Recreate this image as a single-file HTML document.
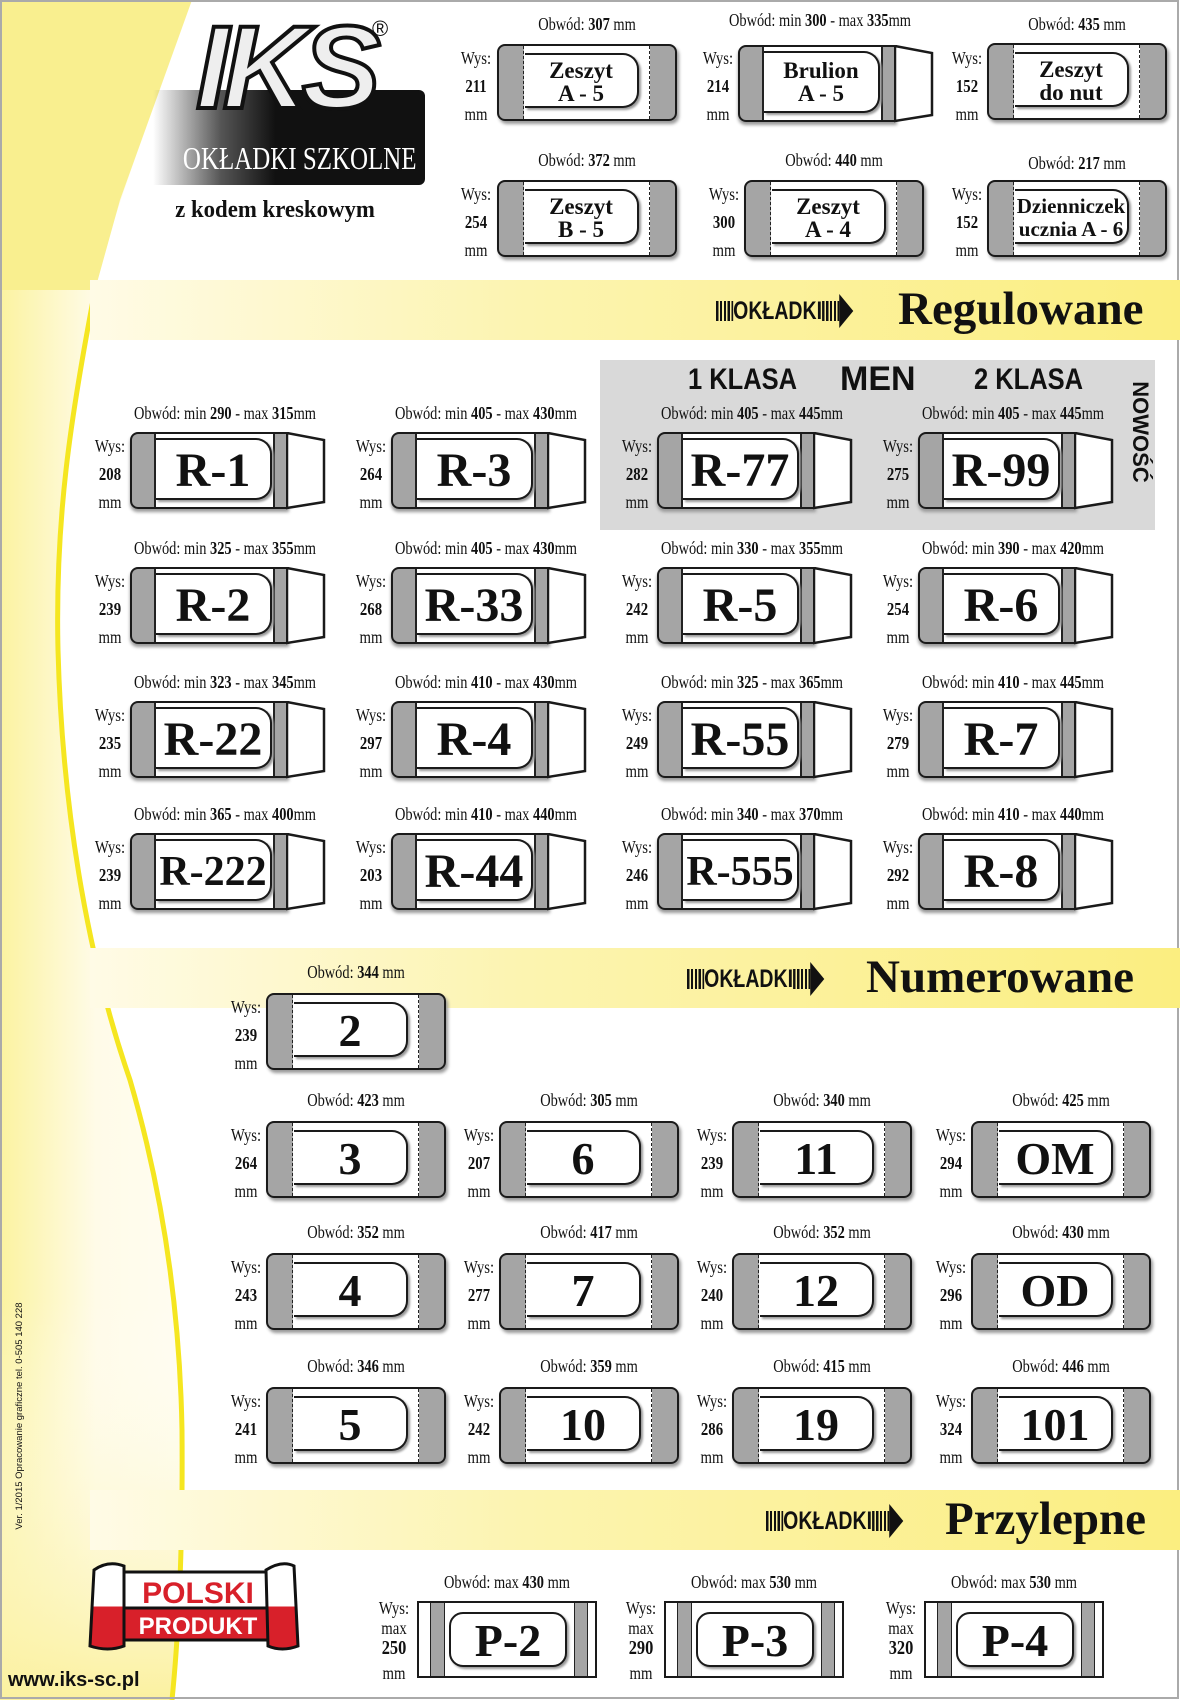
<!DOCTYPE html>
<html><head><meta charset="utf-8">
<style>
*{margin:0;padding:0}
body{width:1180px;height:1700px;position:relative;overflow:hidden;background:#fff;font-family:"Liberation Serif",serif;color:#111}
.a{position:absolute}
.o{position:absolute;width:240px;text-align:center;font-size:18px;line-height:20px;transform:scaleX(.8);white-space:nowrap}
.w{position:absolute;width:40px;text-align:center;font-size:18px;line-height:28px;transform:scaleX(.82)}
.c{position:absolute;width:180px;height:77px;box-sizing:border-box;border:2.5px solid #1a1a1a;border-radius:8px;background:linear-gradient(90deg,#a5a5a5 0 25px,#fff 25px 151px,#a5a5a5 151px);box-shadow:2px 3px 3px #999}
.c::before,.c::after{content:"";position:absolute;top:0;bottom:0;border-left:1.5px dashed #222}
.c::before{left:24px}.c::after{left:150px}
.l{position:absolute;box-sizing:border-box;border:2px solid #1a1a1a;border-left:none;border-radius:0 16px 16px 0;background:#fff;font-weight:bold;text-align:center;box-shadow:2px 2px 2px #999;white-space:nowrap}
.c .l{left:26px;top:7px;width:114px;height:55px;font-size:46px;line-height:54px}
.c .l.t{font-size:23px;line-height:23px;padding-top:4px}
.r{position:absolute;width:196px;height:77px}
.r .b{position:absolute;left:0;top:0;width:159px;height:77px;box-sizing:border-box;border:2.5px solid #1a1a1a;border-radius:8px 0 0 8px;background:linear-gradient(90deg,#a5a5a5 0 24px,#fff 24px 143px,#a5a5a5 143px);box-shadow:0 3px 3px #999}
.r .b::before{content:"";position:absolute;left:22px;top:0;bottom:0;border-left:2px solid #222}
.r .b::after{content:"";position:absolute;left:141px;top:0;bottom:0;border-left:2px solid #222}
.r svg{position:absolute;left:156px;top:0}
.r .l{left:26px;top:6px;width:116px;height:62px;font-size:48px;line-height:62px}
.r .l.t{font-size:23px;line-height:23px;padding-top:6px}
.p{position:absolute;width:180px;height:77px;box-sizing:border-box;border:2px solid #1a1a1a;background:linear-gradient(90deg,#fff 0 11px,#222 11px 12px,#a5a5a5 12px 25px,#222 25px 26px,#fff 26px 155px,#222 155px 156px,#a5a5a5 156px 168px,#222 168px 169px,#fff 169px)}
.p .l{left:30px;top:9px;width:118px;height:55px;border-left:2px solid #1a1a1a;border-radius:14px;font-size:46px;line-height:54px}
.band{position:absolute;left:90px;width:1090px;height:60px;background:linear-gradient(90deg,#fffbe6 0,#fcf4b0 40%,#fbee80 100%)}
.ok{position:absolute;font-family:"Liberation Sans",sans-serif;font-weight:bold;font-size:25px;line-height:30px;transform:scaleX(.78);transform-origin:left;white-space:nowrap}
.bars{display:inline-block;width:22px;height:20px;vertical-align:-2px;background:repeating-linear-gradient(90deg,#111 0 3px,transparent 3px 5px)}
.arr{display:inline-block;width:0;height:0;border-top:17px solid transparent;border-bottom:17px solid transparent;border-left:18px solid #111;vertical-align:-9px}
.ttl{position:absolute;font-weight:bold;font-size:47px;line-height:50px;white-space:nowrap}
</style></head><body>

<svg class="a" style="left:0;top:0" width="1180" height="1700">
<defs>
<linearGradient id="gy" x1="0" y1="0" x2="1" y2="0"><stop offset="0" stop-color="#fbf3a0"/><stop offset="0.5" stop-color="#fffbe8"/><stop offset="1" stop-color="#fffdf2"/></linearGradient>
<linearGradient id="gb" x1="0" y1="0" x2="0" y2="1"><stop offset="0" stop-color="#fff" stop-opacity="0"/><stop offset="1" stop-color="#fbf1a0"/></linearGradient>
</defs>
<path d="M0 0 L192 0 C150 120 110 220 95 290 C70 420 55 520 58 650 C62 800 85 950 130 1080 C165 1200 180 1320 182 1430 C183 1550 178 1640 172 1700 L0 1700 Z" fill="url(#gy)"/>
<path d="M0 1300 L182 1300 C183 1550 178 1640 172 1700 L0 1700 Z" fill="url(#gb)"/>
<path d="M0 0 L192 0 L120 200 L95 290 L0 290 Z" fill="#f9ef8f"/>
<path d="M95 290 C70 420 55 520 58 650 C62 800 85 950 130 1080 C165 1200 180 1320 182 1430 C183 1550 178 1640 172 1700" fill="none" stroke="#f5e620" stroke-width="5"/>
<rect x="1" y="1" width="1177" height="1697" fill="none" stroke="#aaa" stroke-width="2"/>
</svg>

<div class="band" style="top:280px"></div>
<div class="band" style="top:948px"></div>
<div class="band" style="top:1490px"></div>

<!-- logo -->
<div class="a" style="left:153px;top:90px;width:272px;height:95px;border-radius:0 6px 6px 0;background:linear-gradient(90deg,rgba(0,0,0,0) 0,#555 25%,#111 45%,#111 100%)"></div>
<div class="a" style="left:196px;top:6px;font-family:'Liberation Sans',sans-serif;font-weight:bold;font-style:italic;font-size:118px;line-height:124px;color:#eee;-webkit-text-stroke:4px #111;letter-spacing:-6px;transform:scaleX(1.0)">IKS</div>
<div class="a" style="left:372px;top:16px;font-family:'Liberation Sans',sans-serif;font-size:22px">®</div>
<div class="a" style="left:153px;top:142px;width:272px;text-align:center;color:#fff;font-size:32px;line-height:32px;transform:scaleX(.78);white-space:nowrap">OKŁADKI SZKOLNE</div>
<div class="a" style="left:140px;top:195px;width:270px;text-align:center;font-weight:bold;font-size:24px;line-height:30px;transform:scaleX(.95);white-space:nowrap">z kodem kreskowym</div>

<!-- top covers -->
<div class="o" style="left:467px;top:14px">Obwód: <b>307</b> mm</div>
<div class="w" style="left:456px;top:44px">Wys:<br><b>211</b><br>mm</div>
<div class="c" style="left:497px;top:44px"><div class="l t">Zeszyt<br>A - 5</div></div>

<div class="o" style="left:700px;top:10px">Obwód: min <b>300</b> - max <b>335</b>mm</div>
<div class="w" style="left:698px;top:44px">Wys:<br><b>214</b><br>mm</div>
<div class="r" style="left:738px;top:45px"><div class="b"></div><svg width="42" height="80"><polygon points="1,1 38,8 38,70 1,76" fill="#fff" stroke="#1a1a1a" stroke-width="2.5"/></svg><div class="l t">Brulion<br>A - 5</div></div>

<div class="o" style="left:957px;top:14px">Obwód: <b>435</b> mm</div>
<div class="w" style="left:947px;top:44px">Wys:<br><b>152</b><br>mm</div>
<div class="c" style="left:987px;top:43px"><div class="l t">Zeszyt<br>do nut</div></div>

<div class="o" style="left:467px;top:150px">Obwód: <b>372</b> mm</div>
<div class="w" style="left:456px;top:180px">Wys:<br><b>254</b><br>mm</div>
<div class="c" style="left:497px;top:180px"><div class="l t">Zeszyt<br>B - 5</div></div>

<div class="o" style="left:714px;top:150px">Obwód: <b>440</b> mm</div>
<div class="w" style="left:704px;top:180px">Wys:<br><b>300</b><br>mm</div>
<div class="c" style="left:744px;top:180px"><div class="l t">Zeszyt<br>A - 4</div></div>

<div class="o" style="left:957px;top:153px">Obwód: <b>217</b> mm</div>
<div class="w" style="left:947px;top:180px">Wys:<br><b>152</b><br>mm</div>
<div class="c" style="left:987px;top:180px"><div class="l t" style="font-size:21px;line-height:23px">Dzienniczek<br>ucznia A - 6</div></div>

<div class="ok" style="left:716px;top:294px"><span class="bars"></span>OKŁADKI<span class="bars"></span><span class="arr"></span></div>
<div class="ttl" style="left:898px;top:284px">Regulowane</div>

<div class="a" style="left:600px;top:360px;width:555px;height:170px;background:#d9d9d9"></div>
<div class="a" style="left:688px;top:362px;font-family:'Liberation Sans',sans-serif;font-weight:bold;font-size:30px;line-height:36px;transform:scaleX(.85);transform-origin:left;white-space:nowrap">1 KLASA</div>
<div class="a" style="left:840px;top:360px;font-family:'Liberation Sans',sans-serif;font-weight:bold;font-size:34px;line-height:38px;white-space:nowrap">MEN</div>
<div class="a" style="left:974px;top:362px;font-family:'Liberation Sans',sans-serif;font-weight:bold;font-size:30px;line-height:36px;transform:scaleX(.85);transform-origin:left;white-space:nowrap">2 KLASA</div>
<div class="a" style="left:1080px;top:420px;width:120px;text-align:center;font-family:'Liberation Sans',sans-serif;font-weight:bold;font-size:22px;line-height:24px;transform:rotate(90deg)">NOWOŚĆ</div>

<!-- R covers -->
<div class="o" style="left:105px;top:403px">Obwód: min <b>290</b> - max <b>315</b>mm</div>
<div class="w" style="left:90px;top:432px">Wys:<br><b>208</b><br>mm</div>
<div class="r" style="left:130px;top:432px"><div class="b"></div><svg width="42" height="80"><polygon points="1,1 38,8 38,70 1,76" fill="#fff" stroke="#1a1a1a" stroke-width="2.5"/></svg><div class="l">R-1</div></div>

<div class="o" style="left:366px;top:403px">Obwód: min <b>405</b> - max <b>430</b>mm</div>
<div class="w" style="left:351px;top:432px">Wys:<br><b>264</b><br>mm</div>
<div class="r" style="left:391px;top:432px"><div class="b"></div><svg width="42" height="80"><polygon points="1,1 38,8 38,70 1,76" fill="#fff" stroke="#1a1a1a" stroke-width="2.5"/></svg><div class="l">R-3</div></div>

<div class="o" style="left:632px;top:403px">Obwód: min <b>405</b> - max <b>445</b>mm</div>
<div class="w" style="left:617px;top:432px">Wys:<br><b>282</b><br>mm</div>
<div class="r" style="left:657px;top:432px"><div class="b"></div><svg width="42" height="80"><polygon points="1,1 38,8 38,70 1,76" fill="#fff" stroke="#1a1a1a" stroke-width="2.5"/></svg><div class="l">R-77</div></div>

<div class="o" style="left:893px;top:403px">Obwód: min <b>405</b> - max <b>445</b>mm</div>
<div class="w" style="left:878px;top:432px">Wys:<br><b>275</b><br>mm</div>
<div class="r" style="left:918px;top:432px"><div class="b"></div><svg width="42" height="80"><polygon points="1,1 38,8 38,70 1,76" fill="#fff" stroke="#1a1a1a" stroke-width="2.5"/></svg><div class="l">R-99</div></div>

<div class="o" style="left:105px;top:538px">Obwód: min <b>325</b> - max <b>355</b>mm</div>
<div class="w" style="left:90px;top:567px">Wys:<br><b>239</b><br>mm</div>
<div class="r" style="left:130px;top:567px"><div class="b"></div><svg width="42" height="80"><polygon points="1,1 38,8 38,70 1,76" fill="#fff" stroke="#1a1a1a" stroke-width="2.5"/></svg><div class="l">R-2</div></div>

<div class="o" style="left:366px;top:538px">Obwód: min <b>405</b> - max <b>430</b>mm</div>
<div class="w" style="left:351px;top:567px">Wys:<br><b>268</b><br>mm</div>
<div class="r" style="left:391px;top:567px"><div class="b"></div><svg width="42" height="80"><polygon points="1,1 38,8 38,70 1,76" fill="#fff" stroke="#1a1a1a" stroke-width="2.5"/></svg><div class="l">R-33</div></div>

<div class="o" style="left:632px;top:538px">Obwód: min <b>330</b> - max <b>355</b>mm</div>
<div class="w" style="left:617px;top:567px">Wys:<br><b>242</b><br>mm</div>
<div class="r" style="left:657px;top:567px"><div class="b"></div><svg width="42" height="80"><polygon points="1,1 38,8 38,70 1,76" fill="#fff" stroke="#1a1a1a" stroke-width="2.5"/></svg><div class="l">R-5</div></div>

<div class="o" style="left:893px;top:538px">Obwód: min <b>390</b> - max <b>420</b>mm</div>
<div class="w" style="left:878px;top:567px">Wys:<br><b>254</b><br>mm</div>
<div class="r" style="left:918px;top:567px"><div class="b"></div><svg width="42" height="80"><polygon points="1,1 38,8 38,70 1,76" fill="#fff" stroke="#1a1a1a" stroke-width="2.5"/></svg><div class="l">R-6</div></div>

<div class="o" style="left:105px;top:672px">Obwód: min <b>323</b> - max <b>345</b>mm</div>
<div class="w" style="left:90px;top:701px">Wys:<br><b>235</b><br>mm</div>
<div class="r" style="left:130px;top:701px"><div class="b"></div><svg width="42" height="80"><polygon points="1,1 38,8 38,70 1,76" fill="#fff" stroke="#1a1a1a" stroke-width="2.5"/></svg><div class="l">R-22</div></div>

<div class="o" style="left:366px;top:672px">Obwód: min <b>410</b> - max <b>430</b>mm</div>
<div class="w" style="left:351px;top:701px">Wys:<br><b>297</b><br>mm</div>
<div class="r" style="left:391px;top:701px"><div class="b"></div><svg width="42" height="80"><polygon points="1,1 38,8 38,70 1,76" fill="#fff" stroke="#1a1a1a" stroke-width="2.5"/></svg><div class="l">R-4</div></div>

<div class="o" style="left:632px;top:672px">Obwód: min <b>325</b> - max <b>365</b>mm</div>
<div class="w" style="left:617px;top:701px">Wys:<br><b>249</b><br>mm</div>
<div class="r" style="left:657px;top:701px"><div class="b"></div><svg width="42" height="80"><polygon points="1,1 38,8 38,70 1,76" fill="#fff" stroke="#1a1a1a" stroke-width="2.5"/></svg><div class="l">R-55</div></div>

<div class="o" style="left:893px;top:672px">Obwód: min <b>410</b> - max <b>445</b>mm</div>
<div class="w" style="left:878px;top:701px">Wys:<br><b>279</b><br>mm</div>
<div class="r" style="left:918px;top:701px"><div class="b"></div><svg width="42" height="80"><polygon points="1,1 38,8 38,70 1,76" fill="#fff" stroke="#1a1a1a" stroke-width="2.5"/></svg><div class="l">R-7</div></div>

<div class="o" style="left:105px;top:804px">Obwód: min <b>365</b> - max <b>400</b>mm</div>
<div class="w" style="left:90px;top:833px">Wys:<br><b>239</b><br>mm</div>
<div class="r" style="left:130px;top:833px"><div class="b"></div><svg width="42" height="80"><polygon points="1,1 38,8 38,70 1,76" fill="#fff" stroke="#1a1a1a" stroke-width="2.5"/></svg><div class="l" style="font-size:42px">R-222</div></div>

<div class="o" style="left:366px;top:804px">Obwód: min <b>410</b> - max <b>440</b>mm</div>
<div class="w" style="left:351px;top:833px">Wys:<br><b>203</b><br>mm</div>
<div class="r" style="left:391px;top:833px"><div class="b"></div><svg width="42" height="80"><polygon points="1,1 38,8 38,70 1,76" fill="#fff" stroke="#1a1a1a" stroke-width="2.5"/></svg><div class="l">R-44</div></div>

<div class="o" style="left:632px;top:804px">Obwód: min <b>340</b> - max <b>370</b>mm</div>
<div class="w" style="left:617px;top:833px">Wys:<br><b>246</b><br>mm</div>
<div class="r" style="left:657px;top:833px"><div class="b"></div><svg width="42" height="80"><polygon points="1,1 38,8 38,70 1,76" fill="#fff" stroke="#1a1a1a" stroke-width="2.5"/></svg><div class="l" style="font-size:42px">R-555</div></div>

<div class="o" style="left:893px;top:804px">Obwód: min <b>410</b> - max <b>440</b>mm</div>
<div class="w" style="left:878px;top:833px">Wys:<br><b>292</b><br>mm</div>
<div class="r" style="left:918px;top:833px"><div class="b"></div><svg width="42" height="80"><polygon points="1,1 38,8 38,70 1,76" fill="#fff" stroke="#1a1a1a" stroke-width="2.5"/></svg><div class="l">R-8</div></div>

<div class="ok" style="left:687px;top:962px"><span class="bars"></span>OKŁADKI<span class="bars"></span><span class="arr"></span></div>
<div class="ttl" style="left:866px;top:952px">Numerowane</div>

<div class="o" style="left:236px;top:962px">Obwód: <b>344</b> mm</div>
<div class="w" style="left:226px;top:993px">Wys:<br><b>239</b><br>mm</div>
<div class="c" style="left:266px;top:993px"><div class="l">2</div></div>

<div class="o" style="left:236px;top:1090px">Obwód: <b>423</b> mm</div>
<div class="w" style="left:226px;top:1121px">Wys:<br><b>264</b><br>mm</div>
<div class="c" style="left:266px;top:1121px"><div class="l">3</div></div>
<div class="o" style="left:469px;top:1090px">Obwód: <b>305</b> mm</div>
<div class="w" style="left:459px;top:1121px">Wys:<br><b>207</b><br>mm</div>
<div class="c" style="left:499px;top:1121px"><div class="l">6</div></div>
<div class="o" style="left:702px;top:1090px">Obwód: <b>340</b> mm</div>
<div class="w" style="left:692px;top:1121px">Wys:<br><b>239</b><br>mm</div>
<div class="c" style="left:732px;top:1121px"><div class="l">11</div></div>
<div class="o" style="left:941px;top:1090px">Obwód: <b>425</b> mm</div>
<div class="w" style="left:931px;top:1121px">Wys:<br><b>294</b><br>mm</div>
<div class="c" style="left:971px;top:1121px"><div class="l">OM</div></div>

<div class="o" style="left:236px;top:1222px">Obwód: <b>352</b> mm</div>
<div class="w" style="left:226px;top:1253px">Wys:<br><b>243</b><br>mm</div>
<div class="c" style="left:266px;top:1253px"><div class="l">4</div></div>
<div class="o" style="left:469px;top:1222px">Obwód: <b>417</b> mm</div>
<div class="w" style="left:459px;top:1253px">Wys:<br><b>277</b><br>mm</div>
<div class="c" style="left:499px;top:1253px"><div class="l">7</div></div>
<div class="o" style="left:702px;top:1222px">Obwód: <b>352</b> mm</div>
<div class="w" style="left:692px;top:1253px">Wys:<br><b>240</b><br>mm</div>
<div class="c" style="left:732px;top:1253px"><div class="l">12</div></div>
<div class="o" style="left:941px;top:1222px">Obwód: <b>430</b> mm</div>
<div class="w" style="left:931px;top:1253px">Wys:<br><b>296</b><br>mm</div>
<div class="c" style="left:971px;top:1253px"><div class="l">OD</div></div>

<div class="o" style="left:236px;top:1356px">Obwód: <b>346</b> mm</div>
<div class="w" style="left:226px;top:1387px">Wys:<br><b>241</b><br>mm</div>
<div class="c" style="left:266px;top:1387px"><div class="l">5</div></div>
<div class="o" style="left:469px;top:1356px">Obwód: <b>359</b> mm</div>
<div class="w" style="left:459px;top:1387px">Wys:<br><b>242</b><br>mm</div>
<div class="c" style="left:499px;top:1387px"><div class="l">10</div></div>
<div class="o" style="left:702px;top:1356px">Obwód: <b>415</b> mm</div>
<div class="w" style="left:692px;top:1387px">Wys:<br><b>286</b><br>mm</div>
<div class="c" style="left:732px;top:1387px"><div class="l">19</div></div>
<div class="o" style="left:941px;top:1356px">Obwód: <b>446</b> mm</div>
<div class="w" style="left:931px;top:1387px">Wys:<br><b>324</b><br>mm</div>
<div class="c" style="left:971px;top:1387px"><div class="l">101</div></div>

<div class="ok" style="left:766px;top:1504px"><span class="bars"></span>OKŁADKI<span class="bars"></span><span class="arr"></span></div>
<div class="ttl" style="left:945px;top:1494px">Przylepne</div>

<div class="o" style="left:387px;top:1572px">Obwód: max <b>430</b> mm</div>
<div class="w" style="left:374px;top:1598px;line-height:20px">Wys:<br>max<br><b style="font-size:20px">250</b><br><span style="line-height:30px">mm</span></div>
<div class="p" style="left:417px;top:1601px"><div class="l">P-2</div></div>
<div class="o" style="left:634px;top:1572px">Obwód: max <b>530</b> mm</div>
<div class="w" style="left:621px;top:1598px;line-height:20px">Wys:<br>max<br><b style="font-size:20px">290</b><br><span style="line-height:30px">mm</span></div>
<div class="p" style="left:664px;top:1601px"><div class="l">P-3</div></div>
<div class="o" style="left:894px;top:1572px">Obwód: max <b>530</b> mm</div>
<div class="w" style="left:881px;top:1598px;line-height:20px">Wys:<br>max<br><b style="font-size:20px">320</b><br><span style="line-height:30px">mm</span></div>
<div class="p" style="left:924px;top:1601px"><div class="l">P-4</div></div>

<svg class="a" style="left:88px;top:1560px" width="215" height="100">
<defs><linearGradient id="pl" x1="0" y1="0" x2="0" y2="1"><stop offset=".5" stop-color="#fff"/><stop offset=".5" stop-color="#d8202a"/></linearGradient></defs>
<rect x="30" y="12" width="160" height="36" fill="#fff" stroke="#111" stroke-width="3"/>
<rect x="30" y="48" width="160" height="32" fill="#d8202a" stroke="#111" stroke-width="3"/>
<path d="M6 10 Q20 0 36 6 L36 86 Q20 92 2 86 Z" fill="url(#pl)" stroke="#111" stroke-width="3"/>
<path d="M178 10 Q194 0 206 6 L210 86 Q194 92 180 86 Z" fill="url(#pl)" stroke="#111" stroke-width="3"/>
<text x="110" y="43" text-anchor="middle" font-family="Liberation Sans" font-weight="bold" font-size="30" fill="#d8202a">POLSKI</text>
<text x="110" y="74" text-anchor="middle" font-family="Liberation Sans" font-weight="bold" font-size="24" fill="#fff">PRODUKT</text>
</svg>
<div class="a" style="left:8px;top:1668px;font-family:'Liberation Sans',sans-serif;font-weight:bold;font-size:20px;line-height:24px">www.iks-sc.pl</div>
<div class="a" style="left:-130px;top:1410px;width:300px;text-align:center;font-family:'Liberation Sans',sans-serif;font-size:9.5px;line-height:12px;transform:rotate(-90deg);white-space:nowrap">Ver. 1/2015  Opracowanie graficzne tel. 0-505 140 228</div>

</body></html>
